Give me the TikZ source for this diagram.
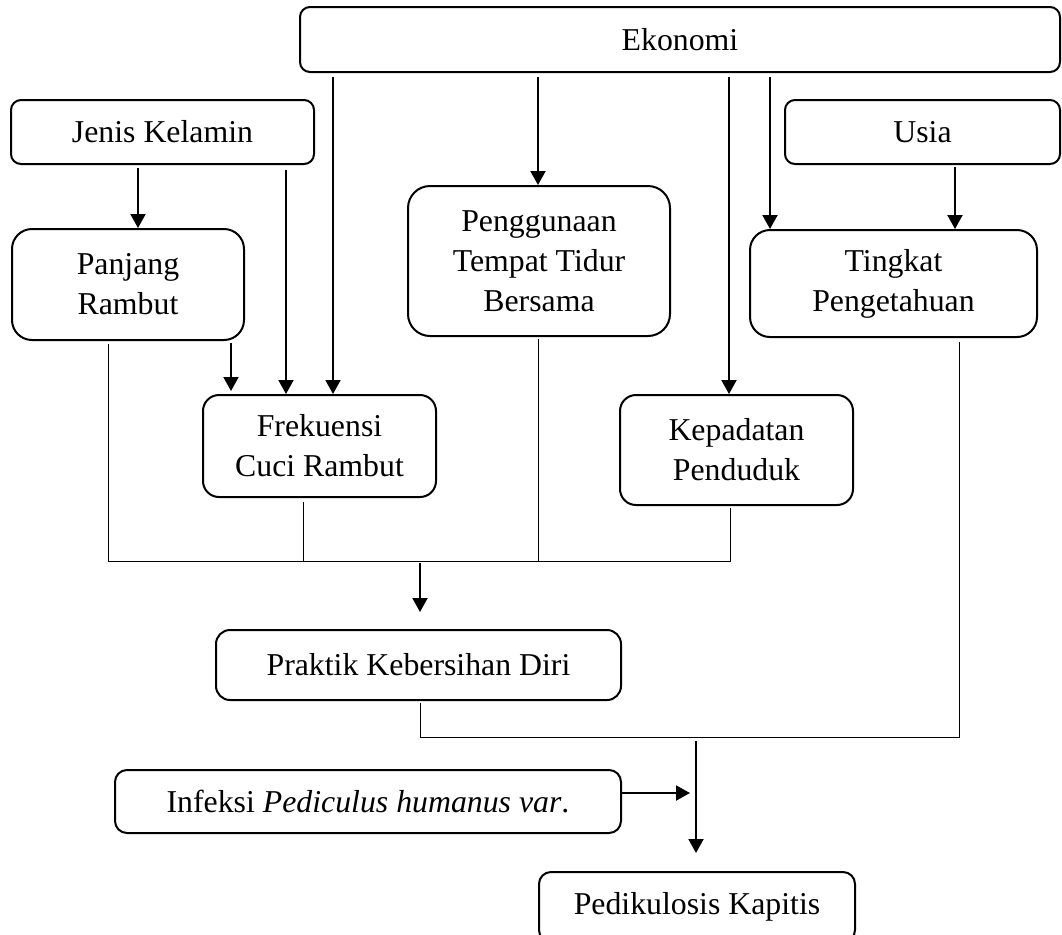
\documentclass[tikz,border=0pt]{standalone}
\usepackage{fontspec}
\setmainfont{Liberation Serif}
\usetikzlibrary{arrows.meta}

\tikzset{
  box/.style={draw, line width=1pt, rounded corners=5pt, align=center, inner sep=0pt,
    font=\fontsize{15.9}{20}\selectfont},
  roundbox/.style={box, rounded corners=10pt},
  arr/.style={line width=1pt, -{Triangle[length=7pt,width=7.5pt]}},
  link/.style={line width=0.5pt},
}

\begin{document}
\begin{tikzpicture}[x=0.5pt,y=-0.5pt]
\useasboundingbox (0,0) rectangle (1062,934);
\clip (0,0) rectangle (1062,934);

% Top row
\node[box, minimum width=380pt, minimum height=32.5pt] (eko) at (680,39.5) {Ekonomi};
\node[box, minimum width=151.5pt, minimum height=32pt] (jk) at (162.5,132) {Jenis Kelamin};
\node[box, minimum width=137.5pt, minimum height=32pt] (usia) at (922.5,132) {Usia};

% Middle boxes
\node[roundbox, minimum width=116pt, minimum height=55.5pt] (pr) at (128,284.5) {Panjang\\Rambut};
\node[roundbox, rounded corners=11pt, minimum width=131pt, minimum height=75pt] (ptt) at (539,261) {Penggunaan\\Tempat Tidur\\Bersama};
\node[roundbox, minimum width=143.5pt, minimum height=53.5pt] (tp) at (893.5,283.5) {Tingkat\\Pengetahuan};
\node[box, rounded corners=8pt, minimum width=116.5pt, minimum height=51pt] (fcr) at (319.5,446) {Frekuensi\\Cuci Rambut};
\node[box, rounded corners=8pt, minimum width=116.5pt, minimum height=55pt] (kp) at (736.5,450) {Kepadatan\\Penduduk};

% Bottom boxes
\node[box, rounded corners=7pt, minimum width=202.5pt, minimum height=35pt] (pkd) at (418.5,665) {Praktik Kebersihan Diri};
\node[box, rounded corners=6pt, minimum width=253pt, minimum height=31.5pt] (inf) at (368,801.5) {Infeksi \textit{Pediculus humanus var}.};
\node[box, rounded corners=6pt, minimum width=158pt, minimum height=35pt] (pk) at (697,907) {Pedikulosis Kapitis};

% Arrows from Ekonomi
\foreach \xx/\tgt in {333/fcr, 538/ptt, 729/kp, 770/tp} {
  \coordinate (c) at (\xx,0);
  \draw[arr, shorten <=2pt] (c |- eko.south) -- (c |- \tgt.north);
}

% Arrows from Jenis Kelamin, Usia, Panjang Rambut
\coordinate (j1) at (138,0);
\coordinate (j2) at (286,0);
\coordinate (u1) at (955,0);
\coordinate (p1) at (231,0);
\draw[arr, shorten <=1.5pt] (j1 |- jk.south) -- (j1 |- pr.north);
\draw[arr, shorten <=2.5pt] (j2 |- jk.south) -- (j2 |- fcr.north);
\draw[arr, shorten <=1pt] (u1 |- usia.south) -- (u1 |- tp.north);
\draw[arr, shorten <=1pt, shorten >=1.5pt] (p1 |- pr.south) -- (p1 |- fcr.north);

% Joined lines
\coordinate (ma) at (108,561);
\coordinate (mf) at (303,561);
\coordinate (mp) at (538,561);
\coordinate (mk) at (730,561);
\draw[link, shorten <=1.5pt, shorten >=1pt] (ma |- pr.south) -- (ma) -- (mk) -- (mk |- kp.south);
\draw[link, shorten <=2pt] (mf |- fcr.south) -- (mf);
\draw[link, shorten <=1pt] (mp |- ptt.south) -- (mp);

\coordinate (a1) at (420,563);
\coordinate (a2) at (420,612);
\draw[arr] (a1) -- (a2);

\coordinate (mb) at (420,737);
\coordinate (mt) at (959,737);
\draw[link, shorten <=1pt, shorten >=2pt] (mb |- pkd.south) -- (mb) -- (mt) -- (mt |- tp.south);

\coordinate (a3) at (696,741);
\coordinate (a4) at (696,853);
\draw[arr] (a3) -- (a4);

\coordinate (a5) at (690,793);
\draw[arr] (inf.east |- a5) -- (a5);
\end{tikzpicture}
\end{document}
